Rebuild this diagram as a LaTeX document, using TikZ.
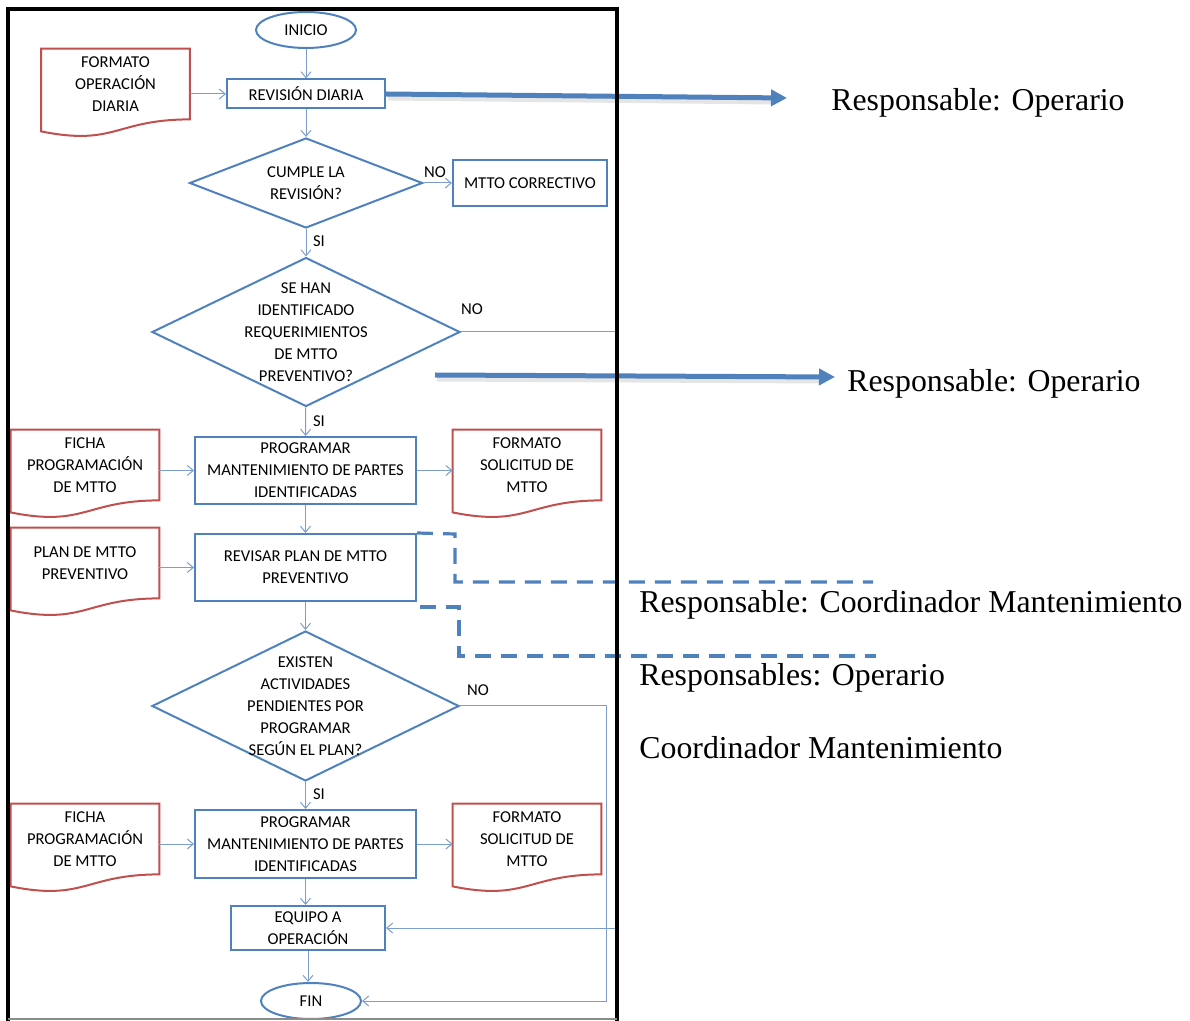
\documentclass[tikz,border=0pt]{standalone}
\usepackage{fontspec}
\setmainfont{Carlito}
\newfontfamily\timesf{Liberation Serif}
\usetikzlibrary{shapes.geometric,arrows.meta,calc}
\definecolor{fblue}{RGB}{79,129,189}
\definecolor{fred}{RGB}{192,80,77}
\definecolor{fconn}{RGB}{125,158,205}
\newcommand\flowfont{\fontsize{8.3}{11}\selectfont}
\newcommand\docshape[1]{\draw[docline] (#1.north west) -- (#1.north east) -- (#1.south east) .. controls (#1.south) and ($(#1.south)+(0,27)$) .. ($(#1.south west)+(0,12)$) -- cycle;}
\begin{document}
\begin{tikzpicture}[x=0.5pt,y=-0.5pt,
  proc/.style={draw=fblue, line width=1pt, align=center, inner sep=1pt, font=\flowfont, fill=white},
  term/.style={draw=fblue, line width=1pt, ellipse, inner sep=0pt, minimum width=50pt, minimum height=18pt, font=\flowfont},
  dia/.style={draw=fblue, line width=1pt, diamond, inner sep=0pt},
  dtext/.style={align=center, font=\flowfont, inner sep=0pt},
  doc/.style={minimum width=74pt, minimum height=35pt, align=center, inner sep=0pt, font=\flowfont},
  docline/.style={draw=fred, line width=1pt},
  conn/.style={draw=fconn, line width=0.5pt, -{Straight Barb[length=3pt,width=5pt]}},
  lab/.style={font=\flowfont, inner sep=0pt},
  bigarrow/.style={draw=fblue, line width=2.5pt, -{Triangle[length=8pt,width=8pt]}},
  bigshadow/.style={draw=black!10, line width=2.5pt},
  dashl/.style={draw=fblue, line width=1.6pt, dash pattern=on 8pt off 5pt},
  resp/.style={font=\timesf\fontsize{15.9}{19}\selectfont, anchor=base west, inner sep=0pt}
]
\useasboundingbox (0,0) rectangle (1190,1021);

% ---------- nodes ----------
\node[term] (ini) at (306,30) {INICIO};
\node[doc] (docA) at (115.5,84) {FORMATO\\OPERACIÓN\\DIARIA};
\docshape{docA}
\node[proc, minimum width=79pt, minimum height=14.5pt] (rev) at (306,94) {REVISIÓN DIARIA};
\node[dia, minimum width=116.5pt, minimum height=45pt] (d1) at (306,183) {};
\node[dtext] (d1t) at (d1) {CUMPLE LA\\REVISIÓN?};
\node[proc, minimum width=77pt, minimum height=23pt] (mc) at (530,183) {MTTO CORRECTIVO};
\node[dia, minimum width=154pt, minimum height=74.5pt] (d2) at (306,332) {};
\node[dtext] (d2t) at (d2) {SE HAN\\IDENTIFICADO\\REQUERIMIENTOS\\DE MTTO\\PREVENTIVO?};

\node[doc] (fc1) at (85,465) {FICHA\\PROGRAMACIÓN\\DE MTTO};
\docshape{fc1}
\node[proc, minimum width=110.5pt, minimum height=33.5pt] (pg1) at (305.5,470.5) {PROGRAMAR\\MANTENIMIENTO DE PARTES\\IDENTIFICADAS};
\node[doc] (fs1) at (527,465) {FORMATO\\SOLICITUD DE\\MTTO};
\docshape{fs1}

\node[doc] (pl) at (85,563) {PLAN DE MTTO\\PREVENTIVO};
\docshape{pl}
\node[proc, minimum width=110.5pt, minimum height=33.5pt] (rp) at (305.5,567.5) {REVISAR PLAN DE MTTO\\PREVENTIVO};

\node[dia, minimum width=153.5pt, minimum height=75pt] (d3) at (305.5,706) {};
\node[dtext] (d3t) at (d3) {EXISTEN\\ACTIVIDADES\\PENDIENTES POR\\PROGRAMAR\\SEGÚN EL PLAN?};

\node[doc] (fc2) at (85,839) {FICHA\\PROGRAMACIÓN\\DE MTTO};
\docshape{fc2}
\node[proc, minimum width=110.5pt, minimum height=34pt] (pg2) at (305.5,844) {PROGRAMAR\\MANTENIMIENTO DE PARTES\\IDENTIFICADAS};
\node[doc] (fs2) at (527,839) {FORMATO\\SOLICITUD DE\\MTTO};
\docshape{fs2}

\node[proc, minimum width=77pt, minimum height=22pt] (eq) at (308,928) {EQUIPO A\\OPERACIÓN};
\node[term] (fin) at (311,1001) {FIN};

% ---------- labels ----------
\node[lab] (no1) at (435,172) {NO};
\node[lab] (si1) at (319,241) {SI};
\node[lab] (no2) at (472,309) {NO};
\node[lab] (si2) at (319,421) {SI};
\node[lab] (no3) at (478,690) {NO};
\node[lab] (si3) at (319,794) {SI};

% ---------- coordinates ----------
\coordinate (c2a) at (615.5,332);
\coordinate (c2b) at (615.5,928);
\coordinate (c3a) at (606,706);
\coordinate (t1e) at (787,98);
\coordinate (t2s) at (435,375);
\coordinate (t2e) at (835,377);
\coordinate (dA1) at (455,534);
\coordinate (dA2) at (455,582);
\coordinate (dA3) at (873,582);
\coordinate (dB0) at (420,607);
\coordinate (dB1) at (459,607);
\coordinate (dB2) at (459,656);
\coordinate (dB3) at (876,656);

% ---------- connectors ----------
\draw[conn] (ini) -- (rev);
\draw[conn] (docA.east |- rev) -- (rev.west);
\draw[conn] (rev) -- (d1);
\draw[conn] (d1.east) -- (mc.west);
\draw[conn] (d1) -- (d2);
\draw[conn] (d2.east) -- (c2a) -- (c2b) -- (eq.east);
\draw[conn] (d2) -- (pg1);
\draw[conn] (fc1.east |- pg1) -- (pg1.west);
\draw[conn] (pg1.east) -- (fs1.west |- pg1);
\draw[conn] (pg1) -- (rp);
\draw[conn] (pl.east |- rp) -- (rp.west);
\draw[conn] (rp) -- (d3);
\draw[conn] (d3.east) -- (c3a) |- (fin.east);
\draw[conn] (d3) -- (pg2);
\draw[conn] (fc2.east |- pg2) -- (pg2.west);
\draw[conn] (pg2.east) -- (fs2.west |- pg2);
\draw[conn] (pg2.south) -- (pg2.south |- eq.north);
\draw[conn] (eq.south) -- (eq.south |- fin.north);

% ---------- responsibility arrows ----------
\draw[bigshadow] ($(rev.east)+(2,4)$) -- ($(t1e)+(-12,4)$);
\draw[bigarrow] (rev.east) -- (t1e);
\draw[bigshadow] ($(t2s)+(2,4)$) -- ($(t2e)+(-12,4)$);
\draw[bigarrow] (t2s) -- (t2e);
\draw[dashl] (rp.north east) -- (dA1) -- (dA2) -- (dA3);
\draw[dashl] (dB0) -- (dB1) -- (dB2) -- (dB3);

% ---------- frame ----------
\draw[line width=2pt] (8,1021) -- (8,9) -- (617,9) -- (617,1021);
\draw[black!45, line width=0.6pt] (8,1019) -- (617,1019);

% ---------- responsible texts ----------
\node[resp] (r1) at (831,110.5) {Responsable: Operario};
\node[resp] (r2) at (847,392) {Responsable: Operario};
\node[resp] (r3) at (639,613) {Responsable: Coordinador Mantenimiento};
\node[resp] (r4) at (639,686) {Responsables: Operario};
\node[resp] (r5) at (639,759) {Coordinador Mantenimiento};
\end{tikzpicture}
\end{document}
